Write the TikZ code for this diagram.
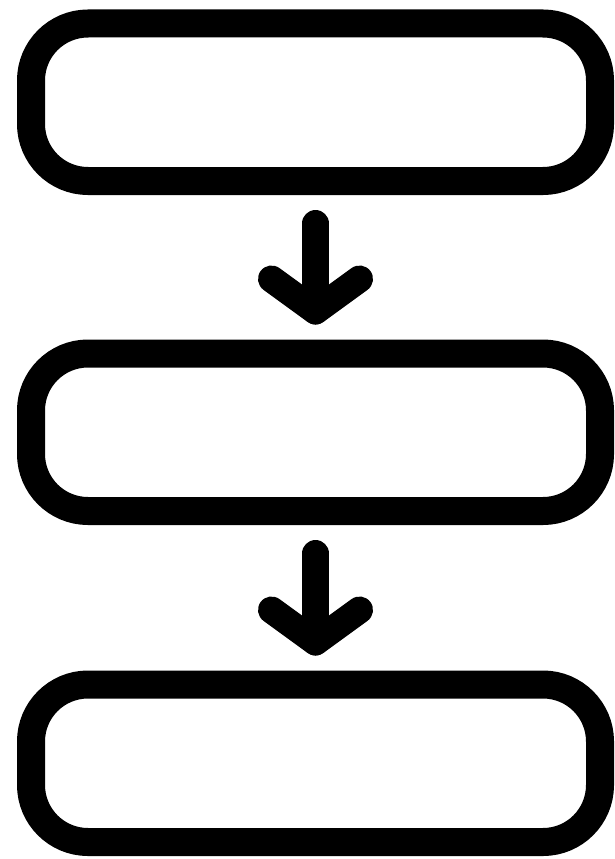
\documentclass[tikz,border=0pt]{standalone}
\usetikzlibrary{calc}
\begin{document}
\begin{tikzpicture}[x=1pt,y=-1pt,
  box/.style={draw=black,line width=28pt,rounded corners=57pt,minimum width=569pt,minimum height=157.5pt,inner sep=0pt,outer sep=0pt},
  arrowline/.style={draw=black,line width=27pt,line cap=round,line join=round}]
\useasboundingbox (0,0) rectangle (615,859);
\node[box] (b1) at (315.5,102.25) {};
\node[box] (b2) at (315.5,432.25) {};
\node[box] (b3) at (315.5,763.25) {};
\coordinate (a1s) at ($(b1.south)+(0,42.5)$);
\coordinate (a1e) at ($(b2.north)+(0,-42.5)$);
\coordinate (a2s) at ($(b2.south)+(0,42.5)$);
\coordinate (a2e) at ($(b3.north)+(0,-42.5)$);
\draw[arrowline] (a1s) -- (a1e);
\draw[arrowline] ($(a1e)+(-44,-32)$) -- (a1e) -- ($(a1e)+(44,-32)$);
\draw[arrowline] (a2s) -- (a2e);
\draw[arrowline] ($(a2e)+(-44,-32)$) -- (a2e) -- ($(a2e)+(44,-32)$);
\end{tikzpicture}
\end{document}
